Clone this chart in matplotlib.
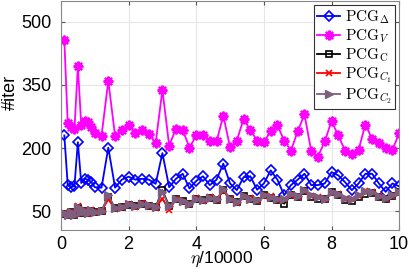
import matplotlib
matplotlib.use("Agg")
import matplotlib.pyplot as plt
import numpy as np

plt.rcParams['font.family'] = 'Liberation Sans'
plt.rcParams['mathtext.fontset'] = 'cm'

# eta / 10000
eta = [0.1, 0.2, 0.3, 0.4, 0.5, 0.6, 0.7, 0.8, 0.9, 1.0,
       1.2, 1.4, 1.6, 1.8, 2.0, 2.2, 2.4, 2.6, 2.8, 3.0,
       3.2, 3.4, 3.6, 3.8, 4.0, 4.2, 4.4, 4.6, 4.8, 5.0,
       5.2, 5.4, 5.6, 5.8, 6.0, 6.2, 6.4, 6.6, 6.8, 7.0,
       7.2, 7.4, 7.6, 7.8, 8.0, 8.2, 8.4, 8.6, 8.8, 9.0,
       9.2, 9.4, 9.6, 9.8, 10.0]

pcg_delta = [230, 113, 107, 110, 214, 117, 127, 125, 119, 107,
             106, 201, 106, 125, 132, 125, 127, 125, 115, 188,
             107, 127, 139, 104, 122, 133, 112, 125, 163, 116,
             100, 131, 133, 101, 116, 147, 125, 88, 112, 125,
             139, 112, 112, 116, 143, 135, 119, 100, 116, 139,
             139, 116, 96, 116, 109]

pcg_v = [457, 259, 249, 245, 395, 255, 265, 261, 251, 236,
         229, 360, 229, 242, 256, 235, 243, 234, 212, 338,
         206, 246, 243, 201, 230, 232, 216, 216, 277, 202,
         218, 269, 243, 218, 214, 240, 254, 218, 194, 240,
         280, 193, 180, 216, 264, 230, 194, 187, 196, 256,
         222, 212, 201, 196, 235]

pcg_c = [44, 40, 47, 42, 58, 46, 50, 45, 51, 48,
         50, 84, 57, 60, 65, 62, 67, 63, 60, 100,
         62, 78, 74, 68, 80, 76, 82, 77, 100, 80,
         72, 86, 80, 75, 88, 82, 76, 68, 88, 84,
         98, 84, 80, 78, 95, 88, 76, 74, 84, 92,
         94, 84, 78, 86, 95]

pcg_c1 = [46, 38, 49, 41, 62, 45, 52, 44, 53, 47,
          51, 78, 55, 61, 66, 61, 69, 62, 58, 80,
          52, 79, 73, 67, 81, 75, 83, 76, 98, 78,
          70, 84, 82, 74, 86, 85, 77, 79, 89, 83,
          99, 86, 83, 79, 94, 90, 80, 78, 86, 97,
          95, 85, 80, 87, 95]

pcg_c2 = [45, 40, 48, 42, 60, 47, 50, 45, 52, 48,
          50, 88, 58, 60, 66, 62, 68, 64, 60, 96,
          62, 78, 75, 68, 80, 76, 82, 78, 102, 80,
          72, 85, 80, 76, 88, 84, 78, 80, 90, 85,
          100, 88, 84, 80, 96, 90, 82, 80, 88, 98,
          96, 86, 82, 88, 96]

fig = plt.figure(figsize=(4.09, 2.73), dpi=100)
ax = fig.add_axes([0.149, 0.157, 0.827, 0.84])

lw = 1.3
ax.plot(eta, pcg_delta, '-D', color='#0000ff', lw=lw, ms=5, mfc='none', mew=1.2,
        label=r'$\mathrm{PCG}_{\Delta}$')
ax.plot(eta, pcg_v, '-', marker=(8, 2, 0), color='#ff00ff', lw=lw, ms=7, mew=1.6,
        label=r'$\mathrm{PCG}_{V}$')
ax.plot(eta, pcg_c, '-s', color='black', lw=lw, ms=5, mfc='none', mew=1.2,
        label=r'$\mathrm{PCG}_{\mathrm{C}}$')
ax.plot(eta, pcg_c1, '-x', color='#ff0000', lw=lw, ms=5, mew=1.2,
        label=r'$\mathrm{PCG}_{C_1}$')
ax.plot(eta, pcg_c2, '->', color='#7e5e7e', lw=lw, ms=6, mew=1.0,
        label=r'$\mathrm{PCG}_{C_2}$')

ax.set_xlim(0, 10)
ax.set_ylim(5, 550)
ax.set_xticks([0, 2, 4, 6, 8, 10])
ax.set_yticks([50, 200, 350, 500])
ax.tick_params(labelsize=13, direction='in', top=True, right=True,
               color='#555555', length=3)
ax.tick_params(axis='x', pad=4)
ax.tick_params(axis='y', pad=7)
ax.grid(True, color='#e6e6e6', linewidth=0.8)
ax.set_axisbelow(True)
for s in ax.spines.values():
    s.set_color('#888888')
    s.set_linewidth(0.8)

ax.set_xlabel(r'$\eta$/10000', fontsize=12.5, va='bottom')
ax.xaxis.set_label_coords(0.475, -0.17)
ax.set_ylabel('#iter', fontsize=13)
ax.yaxis.set_label_coords(-0.125, 0.6)

leg = ax.legend(loc='upper right', fontsize=11, fancybox=False, framealpha=1,
                edgecolor='#333333', handlelength=1.5, handletextpad=0.3,
                borderpad=0.2, labelspacing=0.1, borderaxespad=0.3)
leg.get_frame().set_linewidth(0.8)

fig.savefig('out.png', dpi=100)
